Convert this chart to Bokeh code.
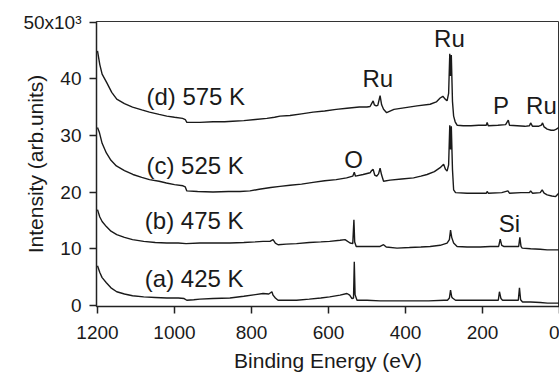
import math
from bokeh.plotting import figure
from bokeh.models import Range1d, FixedTicker, CustomJSTickFormatter, Label
from bokeh.embed import file_html
from bokeh.resources import INLINE

# XPS survey spectra: (binding energy eV, intensity x10^3)
spectrum_d_575K = [
    (1200, 44.9), (1194, 42.5), (1188, 40.8), (1176, 39.3), (1163, 37.6), (1150, 36.4),
    (1130, 35.6), (1109, 35.0), (1085, 34.5), (1065, 34.1), (1040, 33.7), (1020, 33.4),
    (1000, 33.2), (979, 33.0), (972, 32.8), (968, 32.3), (950, 32.3), (934, 32.3),
    (900, 32.4), (870, 32.4), (849, 32.5), (820, 32.6), (790, 32.8), (760, 33.0),
    (740, 33.2), (726, 33.4), (700, 33.5), (670, 33.8), (640, 34.1), (610, 34.3),
    (580, 34.6), (552, 34.8), (520, 35.0), (500, 35.0), (492, 35.1), (488, 35.6),
    (484, 36.1), (481, 35.4), (476, 35.2), (472, 35.3), (466, 37.0), (462, 35.4),
    (457, 34.6), (449, 34.0), (430, 34.6), (400, 34.9), (370, 35.2), (336, 35.5),
    (320, 35.9), (310, 36.6), (303, 36.9), (297, 36.4), (292, 36.1), (288, 37.4),
    (285, 44.4), (283, 40.5), (281, 44.2), (278, 36.0), (275, 33.4), (271, 32.4),
    (266, 31.8), (250, 31.7), (230, 31.7), (210, 31.8), (190, 31.8), (188, 32.3),
    (185, 31.7), (160, 31.8), (140, 31.9), (133, 32.7), (130, 31.8), (110, 31.7),
    (90, 31.6), (78, 31.7), (75, 32.2), (70, 31.6), (55, 31.6), (47, 31.8),
    (44, 32.2), (40, 31.5), (32, 31.1), (22, 30.9), (15, 30.9), (8, 31.1),
    (2, 31.4), (0, 31.5),
]

spectrum_c_525K = [
    (1200, 31.4), (1195, 30.5), (1188, 28.6), (1177, 26.9), (1165, 25.6), (1151, 24.6),
    (1130, 23.8), (1108, 23.1), (1085, 22.6), (1065, 22.2), (1040, 21.9), (1021, 21.6),
    (1000, 21.3), (978, 21.1), (972, 20.9), (968, 20.2), (940, 20.1), (900, 20.0),
    (860, 20.1), (830, 20.1), (804, 20.2), (780, 20.5), (750, 20.8), (726, 21.0),
    (700, 21.2), (670, 21.4), (640, 21.7), (610, 22.0), (580, 22.2), (553, 22.5),
    (537, 22.8), (533, 23.5), (530, 22.8), (510, 23.1), (492, 23.4), (488, 23.8),
    (484, 24.0), (480, 23.0), (475, 22.8), (470, 23.2), (466, 24.2), (462, 23.0),
    (457, 21.9), (440, 22.1), (410, 22.3), (379, 22.5), (360, 22.8), (344, 23.1),
    (325, 23.6), (310, 24.3), (301, 24.9), (296, 24.0), (292, 23.7), (288, 24.8),
    (285, 31.8), (283, 27.5), (281, 31.6), (278, 24.0), (275, 20.4), (270, 19.9),
    (240, 19.8), (210, 19.8), (190, 19.8), (188, 20.1), (185, 19.8), (150, 19.9),
    (134, 20.2), (130, 19.8), (100, 19.9), (78, 19.9), (75, 20.2), (70, 19.8),
    (50, 19.9), (45, 20.4), (40, 19.8), (32, 19.5), (20, 19.3), (10, 19.2),
    (2, 19.8), (0, 19.8),
]

spectrum_b_475K = [
    (1200, 16.9), (1194, 15.6), (1188, 14.8), (1177, 13.9), (1165, 13.1), (1150, 12.5),
    (1130, 12.0), (1109, 11.6), (1080, 11.3), (1050, 11.1), (1020, 11.0), (990, 11.0),
    (970, 10.9), (934, 11.0), (900, 11.0), (856, 11.0), (820, 11.1), (790, 11.2),
    (770, 11.3), (752, 11.3), (744, 11.6), (738, 11.0), (731, 10.7), (710, 10.8),
    (683, 10.9), (650, 11.1), (620, 11.2), (597, 11.3), (570, 11.5), (557, 11.6),
    (544, 11.0), (537, 10.9), (534, 15.1), (532, 11.2), (528, 10.4), (500, 10.4),
    (466, 10.4), (457, 10.7), (450, 10.3), (422, 10.1), (390, 10.2), (360, 10.3),
    (336, 10.4), (310, 10.6), (292, 11.0), (286, 11.6), (283, 13.3), (280, 12.0),
    (275, 11.0), (266, 10.4), (240, 10.3), (206, 10.3), (180, 10.4), (158, 10.4),
    (154, 11.7), (150, 10.6), (145, 10.4), (120, 10.4), (106, 10.4), (103, 12.0),
    (100, 10.4), (97, 10.1), (75, 10.0), (50, 9.9), (32, 9.8), (15, 9.8),
    (2, 9.8), (0, 9.8),
]

spectrum_a_425K = [
    (1200, 7.0), (1194, 5.8), (1188, 4.9), (1177, 4.0), (1165, 3.1), (1150, 2.4),
    (1130, 2.0), (1109, 1.7), (1080, 1.5), (1050, 1.4), (1020, 1.3), (990, 1.3),
    (975, 1.2), (968, 0.9), (950, 1.0), (934, 1.1), (900, 1.2), (856, 1.3),
    (820, 1.6), (790, 1.9), (770, 2.1), (755, 2.0), (747, 2.4), (744, 1.8),
    (738, 1.3), (731, 0.9), (710, 0.9), (683, 0.9), (650, 1.1), (620, 1.3),
    (597, 1.5), (570, 1.8), (552, 2.1), (545, 1.8), (539, 1.2), (535, 1.3),
    (533, 7.7), (531, 1.9), (526, 0.9), (500, 0.9), (466, 0.8), (420, 0.8),
    (380, 0.8), (340, 0.8), (300, 0.9), (291, 0.9), (286, 1.3), (283, 2.7),
    (280, 1.5), (278, 1.3), (270, 0.9), (240, 0.9), (206, 0.9), (180, 0.9),
    (159, 0.9), (156, 2.4), (152, 1.2), (148, 0.9), (120, 0.9), (107, 0.9),
    (104, 3.1), (101, 1.0), (96, 0.6), (75, 0.6), (50, 0.5), (31, 0.4),
    (15, 0.4), (3, 0.4), (0, 0.4),
]

series = [spectrum_a_425K, spectrum_b_475K, spectrum_c_525K, spectrum_d_575K]

y_ticks = [0, 10, 20, 30, 40, 50]
x_ticks = [1200, 1000, 800, 600, 400, 200, 0]

# curve labels: (text, energy, intensity, align)
curve_labels = [
    ("(d) 575 K", 1073, 36.8, "left"),
    ("(c) 525 K", 1073, 24.7, "left"),
    ("(b) 475 K", 1077, 14.9, "left"),
    ("(a) 425 K", 1077, 4.8, "left"),
    ("Ru", 286, 47.1, "center"),
    ("Ru", 472, 40.0, "center"),
    ("P", 152, 35.3, "center"),
    ("Ru", 47, 35.3, "center"),
    ("O", 535, 25.8, "center"),
    ("Si", 130, 14.5, "center"),
]

FONT = "Liberation Sans"
INK = "#1a1a1a"

p = figure(width=559, height=377,
           x_range=Range1d(1202.6, 0), y_range=Range1d(-0.2, 50.1),
           output_backend="svg", toolbar_location=None,
           x_axis_label="Binding Energy (eV)", y_axis_label="Intensity (arb.units)",
           min_border_left=96, min_border_right=0, min_border_top=21, min_border_bottom=71)

p.background_fill_color = "white"
p.border_fill_color = "white"
p.outline_line_color = "#333333"
p.outline_line_width = 1
p.xgrid.visible = False
p.ygrid.visible = False

for s in series:
    xs = [e for e, _ in s]
    ys = [v for _, v in s]
    p.line(xs, ys, line_color=INK, line_width=1.4)

for ax in (p.xaxis[0], p.yaxis[0]):
    ax.axis_line_color = "#222222"
    ax.axis_line_width = 1.5
    ax.major_tick_line_color = "#222222"
    ax.major_tick_line_width = 1.5
    ax.major_tick_out = 7
    ax.major_tick_in = 0
    ax.minor_tick_line_color = None
    ax.major_label_text_font = FONT
    ax.major_label_text_font_size = "19px"
    ax.major_label_text_color = INK
    ax.axis_label_text_font = FONT
    ax.axis_label_text_font_style = "normal"
    ax.axis_label_text_color = INK

p.xaxis[0].ticker = FixedTicker(ticks=x_ticks)
p.xaxis[0].major_label_standoff = 12
p.xaxis[0].axis_label_text_font_size = "21px"
p.xaxis[0].axis_label_standoff = 7
p.yaxis[0].ticker = FixedTicker(ticks=y_ticks)
p.yaxis[0].major_label_standoff = 8
p.yaxis[0].axis_label_text_font_size = "21px"
p.yaxis[0].axis_label_standoff = -27
p.yaxis[0].formatter = CustomJSTickFormatter(
    code="return tick == 50 ? '50x10\u00b3' : tick.toFixed(0);")

for text, e, v, align in curve_labels:
    p.add_layout(Label(x=e, y=v, text=text, text_font=FONT, text_font_size="24px",
                       text_color=INK, text_align=align, text_baseline="alphabetic"))

open("out.html", "w").write(file_html(p, INLINE))
